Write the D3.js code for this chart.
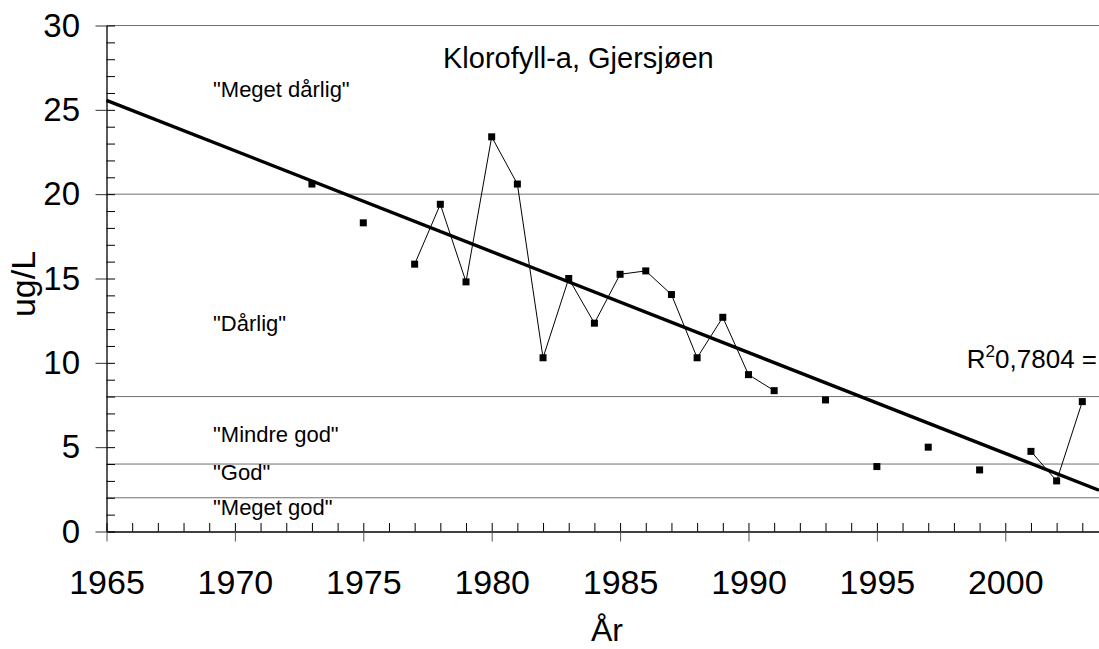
<!DOCTYPE html>
<html>
<head>
<meta charset="utf-8">
<script src="https://cdn.jsdelivr.net/npm/d3@7"></script>
<style>
  body { margin: 0; background: #fff; }
  svg { display: block; font-family: "Liberation Sans", Arial, sans-serif; }
</style>
</head>
<body>
<div id="graph"></div>
<script>
// measured chlorophyll-a values (ug/L) per year
var years = [1973, 1975, 1977, 1978, 1979, 1980, 1981, 1982, 1983, 1984, 1985, 1986,
             1987, 1988, 1989, 1990, 1991, 1993, 1995, 1997, 1999, 2001, 2002, 2003];
var values = [20.6, 18.3, 15.85, 19.4, 14.8, 23.4, 20.6, 10.3, 15.0, 12.35, 15.25, 15.45,
              14.05, 10.3, 12.7, 9.3, 8.35, 7.8, 3.85, 5.0, 3.65, 4.75, 3.0, 7.7];

// class limits (horizontal lines) and the class names
var classLimits = [30, 20, 8, 4, 2];
var classNames = ['"Meget dårlig"', '"Dårlig"', '"Mindre god"', '"God"', '"Meget god"'];

var yTicks = [0, 5, 10, 15, 20, 25, 30];
var xTicks = [1965, 1970, 1975, 1980, 1985, 1990, 1995, 2000];

var titleText = "Klorofyll-a, Gjersjøen";
var yTitle = "ug/L";
var xTitle = "År";
var r2Text = "0,7804 =";

drawChart();

function drawChart() {
  var width = 1099, height = 649;
  var mLeft = 106.5, mTop = 25.5, mBottom = 531.5, mRight = 1099;
  var xMax = 2003.65;

  var svg = d3.select("#graph").append("svg")
    .attr("width", width)
    .attr("height", height);

  var x = d3.scaleLinear().domain([1965, xMax]).range([mLeft, mRight]);
  var y = d3.scaleLinear().domain([0, 30]).range([mBottom, mTop]);

  // class lines
  svg.selectAll(".limit")
    .data(classLimits)
    .enter().append("line")
    .attr("x1", mLeft).attr("x2", mRight)
    .attr("y1", function(d) { return y(d); })
    .attr("y2", function(d) { return y(d); })
    .attr("stroke", "#707070")
    .attr("stroke-width", 1);

  // class names, baseline given as y-value
  var namePos = [25.75, 11.9, 5.3, 3.05, 1.0];
  svg.selectAll(".cname")
    .data(classNames)
    .enter().append("text")
    .attr("x", 213)
    .attr("y", function(d, i) { return y(namePos[i]); })
    .attr("font-size", 22)
    .attr("fill", "#000")
    .text(function(d) { return d; });

  // y axis: major ticks outside with labels, minor ticks inside
  var yAxis = svg.append("g")
    .attr("transform", "translate(" + mLeft + ",0)")
    .call(d3.axisLeft(y).tickValues(yTicks).tickSize(11).tickPadding(15.5).tickSizeOuter(0));
  yAxis.select(".domain").attr("stroke", "#000").attr("stroke-width", 1.3);
  yAxis.selectAll(".tick line").attr("stroke", "#333");
  yAxis.selectAll("text").attr("font-size", 33).attr("fill", "#000")
    .attr("font-family", "Liberation Sans, Arial, sans-serif");

  svg.append("g")
    .attr("transform", "translate(" + mLeft + ",0)")
    .call(d3.axisRight(y).tickValues(d3.range(0, 31)).tickSize(8.5).tickFormat("").tickSizeOuter(0))
    .call(function(g) { g.select(".domain").remove(); })
    .selectAll(".tick line").attr("stroke", "#000");

  // x axis
  var xAxis = svg.append("g")
    .attr("transform", "translate(0," + mBottom + ")")
    .call(d3.axisBottom(x).tickValues(xTicks).tickFormat(d3.format("d")).tickSize(10).tickPadding(28).tickSizeOuter(0));
  xAxis.select(".domain").attr("stroke", "#000").attr("stroke-width", 1.3);
  xAxis.selectAll(".tick line").attr("stroke", "#555");
  xAxis.selectAll("text").attr("font-size", 34).attr("fill", "#000")
    .attr("font-family", "Liberation Sans, Arial, sans-serif");

  svg.append("g")
    .attr("transform", "translate(0," + mBottom + ")")
    .call(d3.axisTop(x).tickValues(d3.range(1965, 2004)).tickSize(8.5).tickFormat("").tickSizeOuter(0))
    .call(function(g) { g.select(".domain").remove(); })
    .selectAll(".tick line").attr("stroke", "#000");

  // thin line between consecutive years only
  var byYear = {};
  years.forEach(function(d, i) { byYear[d] = values[i]; });
  var allYears = d3.range(years[0], years[years.length - 1] + 1);
  var line = d3.line()
    .defined(function(d) { return byYear[d] !== undefined; })
    .x(function(d) { return x(d); })
    .y(function(d) { return y(byYear[d]); });
  svg.append("path")
    .datum(allYears)
    .attr("d", line)
    .attr("fill", "none")
    .attr("stroke", "#000")
    .attr("stroke-width", 1);

  // linear trend (least squares)
  var mx = d3.mean(years), my = d3.mean(values);
  var sxy = d3.sum(years, function(d, i) { return (d - mx) * (values[i] - my); });
  var sxx = d3.sum(years, function(d) { return (d - mx) * (d - mx); });
  var slope = sxy / sxx;
  var trend = function(t) { return my + slope * (t - mx); };
  svg.append("line")
    .attr("x1", x(1965)).attr("y1", y(trend(1965)))
    .attr("x2", x(xMax)).attr("y2", y(trend(xMax)))
    .attr("stroke", "#000")
    .attr("stroke-width", 3.4);

  // markers
  svg.selectAll(".pt")
    .data(years)
    .enter().append("rect")
    .attr("x", function(d) { return x(d) - 3.5; })
    .attr("y", function(d, i) { return y(values[i]) - 3.5; })
    .attr("width", 7).attr("height", 7)
    .attr("fill", "#000");

  // texts
  svg.append("text")
    .attr("x", 443).attr("y", 68)
    .attr("font-size", 29)
    .text(titleText);

  var r2 = svg.append("text")
    .attr("x", 1097).attr("y", 368)
    .attr("text-anchor", "end")
    .attr("font-size", 26);
  r2.append("tspan").text("R");
  r2.append("tspan").attr("font-size", 17).attr("dy", -11).text("2");
  r2.append("tspan").attr("dy", 11).text(r2Text);

  svg.append("text")
    .attr("transform", "translate(35,284) rotate(-90)")
    .attr("text-anchor", "middle")
    .attr("font-size", 34)
    .text(yTitle);

  svg.append("text")
    .attr("x", 607).attr("y", 641)
    .attr("text-anchor", "middle")
    .attr("font-size", 32)
    .text(xTitle);
}
</script>
</body>
</html>
